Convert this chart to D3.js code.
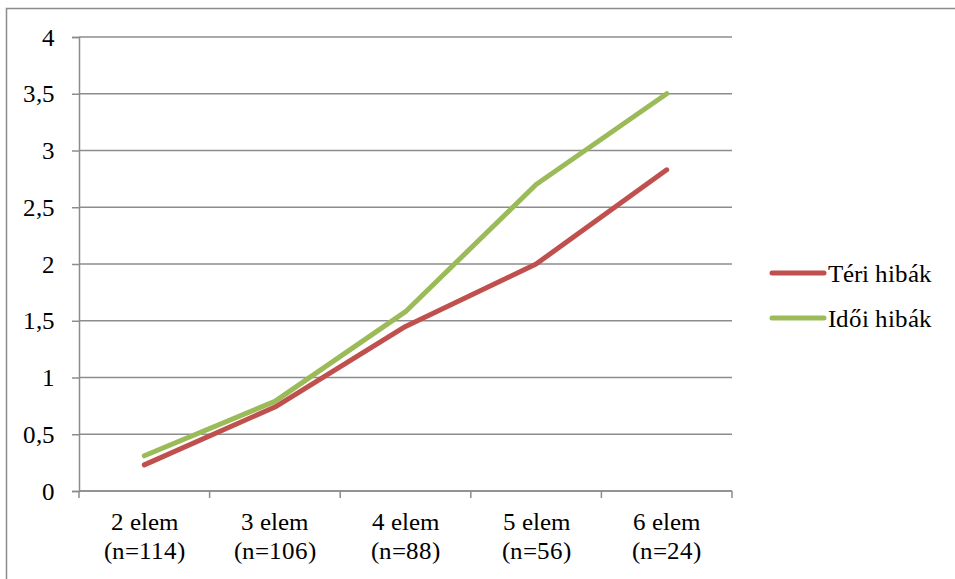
<!DOCTYPE html>
<html>
<head>
<meta charset="utf-8">
<script src="https://cdn.jsdelivr.net/npm/d3@7"></script>
<style>
  @font-face { font-family: "ChartSerif"; src: local("Liberation Serif"), local("LiberationSerif"), local("Liberation Serif Regular"); }
</style>
</head>
<body style="margin:0">
<svg id="chart" width="955" height="579"></svg>
<script>
// Categories and their sample sizes
const categories = ["2 elem", "3 elem", "4 elem", "5 elem", "6 elem"];
const sampleSizes = ["(n=114)", "(n=106)", "(n=88)", "(n=56)", "(n=24)"];

// Average error counts per series
const spatialErrors = [0.23, 0.74, 1.45, 2.0, 2.83];   // Téri hibák
const temporalErrors = [0.31, 0.79, 1.58, 2.70, 3.50]; // Idői hibák

const yTicks = [0, 0.5, 1, 1.5, 2, 2.5, 3, 3.5, 4];

const series = [
  { name: "Téri hibák", values: spatialErrors, color: "#C0504D" },
  { name: "Idői hibák", values: temporalErrors, color: "#9BBB59" }
];

const labelFont = "'ChartSerif', 'Liberation Serif'";
const fontSize = 25;
const svg = d3.select("#chart");
const margin = { left: 79, right: 732, top: 37, bottom: 491 };

// Outer frame
svg.append("rect")
  .attr("x", 6.5).attr("y", 8.5)
  .attr("width", 1000).attr("height", 600)
  .attr("fill", "none").attr("stroke", "#8c8c8c").attr("stroke-width", 1.5);

const x = d3.scaleBand().domain(categories).range([margin.left, margin.right]).padding(0);
const y = d3.scaleLinear().domain([0, 4]).range([margin.bottom, margin.top]);

const fmt = v => String(v).replace(".", ",");

// Horizontal gridlines
svg.append("g")
  .selectAll("line")
  .data(yTicks)
  .join("line")
  .attr("x1", margin.left).attr("x2", margin.right)
  .attr("y1", d => y(d)).attr("y2", d => y(d))
  .attr("stroke", "#8c8c8c").attr("stroke-width", 1.5);

// Y axis
const yAxis = svg.append("g")
  .attr("transform", `translate(${margin.left},0)`)
  .call(d3.axisLeft(y).tickValues(yTicks).tickFormat(fmt).tickSize(7).tickPadding(17));
yAxis.attr("font-family", null).attr("font-size", null);
yAxis.select(".domain").attr("stroke", "#8c8c8c").attr("stroke-width", 1.5);
yAxis.selectAll(".tick line").attr("stroke", "#8c8c8c").attr("stroke-width", 1.5);
yAxis.selectAll(".tick text")
  .style("font-family", labelFont)
  .style("font-size", fontSize + "px").attr("fill", "#000");

// X axis: tick marks at category boundaries
const bounds = categories.map(c => x(c)).concat([margin.right]);
svg.append("line")
  .attr("x1", margin.left).attr("x2", margin.right)
  .attr("y1", margin.bottom).attr("y2", margin.bottom)
  .attr("stroke", "#8c8c8c").attr("stroke-width", 1.5);
svg.append("g")
  .selectAll("line")
  .data(bounds)
  .join("line")
  .attr("x1", d => d).attr("x2", d => d)
  .attr("y1", margin.bottom).attr("y2", margin.bottom + 7)
  .attr("stroke", "#8c8c8c").attr("stroke-width", 1.5);

// Two-line category labels
const xl = svg.append("g")
  .selectAll("text")
  .data(categories)
  .join("text")
  .attr("x", d => x(d) + x.bandwidth() / 2)
  .attr("text-anchor", "middle")
  .style("font-family", labelFont)
  .style("font-size", fontSize + "px").attr("fill", "#000");
xl.append("tspan").attr("x", d => x(d) + x.bandwidth() / 2).attr("y", 530).text(d => d);
xl.append("tspan").attr("x", d => x(d) + x.bandwidth() / 2).attr("y", 559).text((d, i) => sampleSizes[i]);

// Series lines
const line = d3.line()
  .x((d, i) => x(categories[i]) + x.bandwidth() / 2)
  .y(d => y(d));

svg.append("g")
  .selectAll("path")
  .data(series)
  .join("path")
  .attr("d", d => line(d.values))
  .attr("fill", "none")
  .attr("stroke", d => d.color)
  .attr("stroke-width", 5)
  .attr("stroke-linecap", "round")
  .attr("stroke-linejoin", "round");

// Legend
const legend = svg.append("g")
  .selectAll("g")
  .data(series)
  .join("g")
  .attr("transform", (d, i) => `translate(772,${273 + i * 45})`);
legend.append("line")
  .attr("x1", 0).attr("x2", 52)
  .attr("stroke", d => d.color).attr("stroke-width", 5).attr("stroke-linecap", "round");
legend.append("text")
  .attr("x", 56).attr("y", 9)
  .style("font-family", labelFont)
  .style("font-size", fontSize + "px").attr("fill", "#000")
  .text(d => d.name);
</script>
</body>
</html>
